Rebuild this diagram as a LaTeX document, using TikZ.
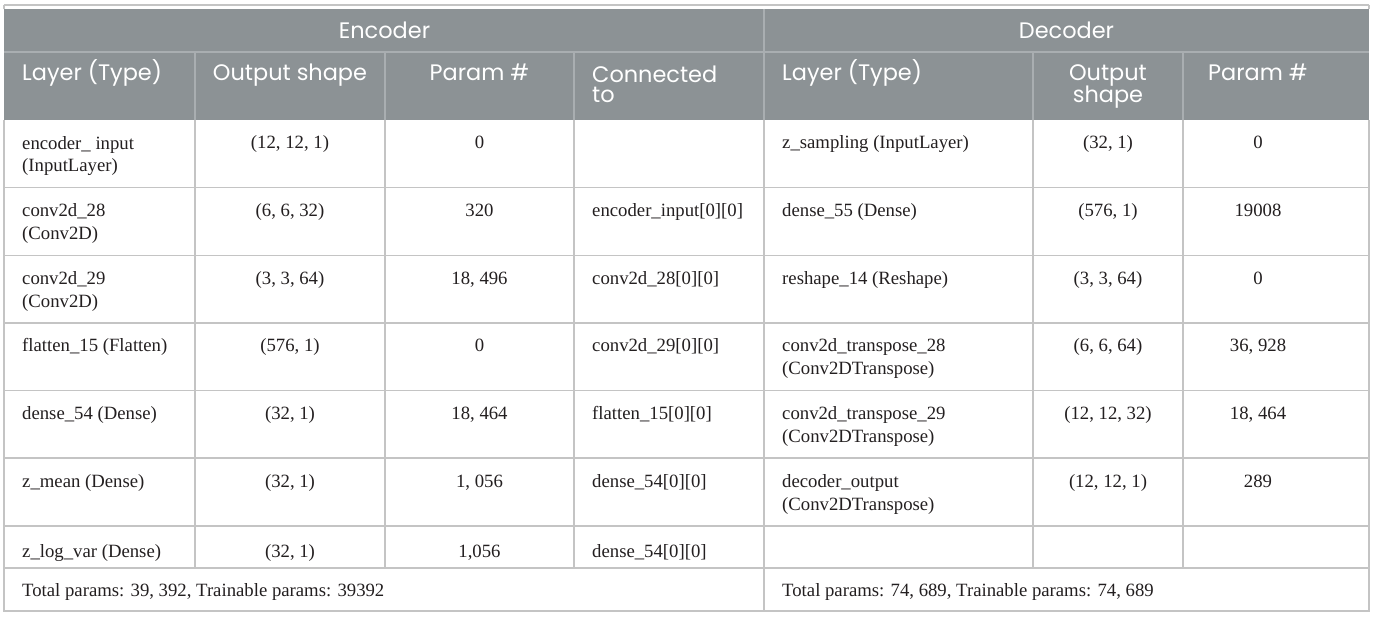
\documentclass[tikz,border=0pt]{standalone}
\usepackage{fontspec}
\setmainfont{Liberation Serif}
\newfontfamily\hdrfont{Poppins}
\definecolor{hdrgray}{HTML}{8C9295}
\definecolor{hdrline}{HTML}{A9AEB1}
\definecolor{gridc}{HTML}{C4C4C4}
\definecolor{bodytxt}{HTML}{231F20}
\tikzset{
  hdr/.style={inner sep=0pt, text=white, font=\hdrfont\fontsize{22.5}{22}\selectfont},
  hdrL/.style={hdr, anchor=base west, align=left},
  hdrC/.style={hdr, anchor=base, align=center},
  body/.style={inner sep=0pt, text=bodytxt, font=\fontsize{18.8}{23}\selectfont},
  cellL/.style={body, anchor=base west, align=left},
  cellC/.style={body, anchor=base, align=center},
  gridline/.style={draw=gridc, line width=1.4bp},
  hdrrule/.style={draw=hdrline, line width=1.4bp}
}
\begin{document}
\begin{tikzpicture}[x=1bp,y=-1bp]
\useasboundingbox (0,0) rectangle (1375,617);
% header background
\fill[hdrgray] (4,9) rectangle (1369,120);
\draw[gridline] (4,5) -- (1369,5);
% header rules
\draw[hdrrule] (4,52) -- (1369,52);
\draw[hdrrule] (764,9) -- (764,52);
\foreach \x in {195,385,574,764,1033,1183} \draw[hdrrule] (\x,52) -- (\x,120);
% body grid
\foreach \y in {187.6,255.2,322.8,390.4,458,526,568} \draw[gridline] (4,\y) -- (1369,\y);
\foreach \x in {195,385,574,764,1033,1183} \draw[gridline] (\x,120) -- (\x,568);
\draw[gridline] (764,568) -- (764,611);
\draw[gridline] (4,120) -- (4,611) -- (1369,611) -- (1369,120);
\draw[gridline] (4,5) -- (4,9);
\draw[gridline] (1369,5) -- (1369,9);

% group headers (multi-line nodes: base = last line)
\node[hdrC] (enc) at (384.5,39) {Encoder};
\node[hdrC] (dec) at (1066.5,39) {Decoder};
% column headers
\node[hdrL] (h1) at (22,81) {Layer (Type)};
\node[hdrC] (h2) at (290,81) {Output shape};
\node[hdrC] (h3) at (479.5,81) {Param \#};
\node[hdrL] (h4) at (592,103) {Connected\\[-1pt]to};
\node[hdrL] (h5) at (782,81) {Layer (Type)};
\node[hdrC] (h6) at (1108,103) {Output\\[-1pt]shape};
\node[hdrC] (h7) at (1258,81) {Param \#};

% encoder rows
\node[cellL] (e1a) at (22,172) {encoder\_ input\\(InputLayer)};
\node[cellC] (e1b) at (290,149) {(12, 12, 1)};
\node[cellC] (e1c) at (479.5,149) {0};

\node[cellL] (e2a) at (22,239.6) {conv2d\_28\\(Conv2D)};
\node[cellC] (e2b) at (290,216.6) {(6, 6, 32)};
\node[cellC] (e2c) at (479.5,216.6) {320};
\node[cellL] (e2d) at (592,216.6) {encoder\_input[0][0]};

\node[cellL] (e3a) at (22,307.2) {conv2d\_29\\(Conv2D)};
\node[cellC] (e3b) at (290,284.2) {(3, 3, 64)};
\node[cellC] (e3c) at (479.5,284.2) {18, 496};
\node[cellL] (e3d) at (592,284.2) {conv2d\_28[0][0]};

\node[cellL] (e4a) at (22,351.8) {flatten\_15 (Flatten)};
\node[cellC] (e4b) at (290,351.8) {(576, 1)};
\node[cellC] (e4c) at (479.5,351.8) {0};
\node[cellL] (e4d) at (592,351.8) {conv2d\_29[0][0]};

\node[cellL] (e5a) at (22,419.4) {dense\_54 (Dense)};
\node[cellC] (e5b) at (290,419.4) {(32, 1)};
\node[cellC] (e5c) at (479.5,419.4) {18, 464};
\node[cellL] (e5d) at (592,419.4) {flatten\_15[0][0]};

\node[cellL] (e6a) at (22,487) {z\_mean (Dense)};
\node[cellC] (e6b) at (290,487) {(32, 1)};
\node[cellC] (e6c) at (479.5,487) {1, 056};
\node[cellL] (e6d) at (592,487) {dense\_54[0][0]};

\node[cellL] (e7a) at (22,557) {z\_log\_var (Dense)};
\node[cellC] (e7b) at (290,557) {(32, 1)};
\node[cellC] (e7c) at (479.5,557) {1,056};
\node[cellL] (e7d) at (592,557) {dense\_54[0][0]};

\node[cellL] (et) at (22,596) {Total params: 39, 392, Trainable params: 39392};

% decoder rows
\node[cellL] (d1a) at (782,149) {z\_sampling (InputLayer)};
\node[cellC] (d1b) at (1108,149) {(32, 1)};
\node[cellC] (d1c) at (1258,149) {0};

\node[cellL] (d2a) at (782,216.6) {dense\_55 (Dense)};
\node[cellC] (d2b) at (1108,216.6) {(576, 1)};
\node[cellC] (d2c) at (1258,216.6) {19008};

\node[cellL] (d3a) at (782,284.2) {reshape\_14 (Reshape)};
\node[cellC] (d3b) at (1108,284.2) {(3, 3, 64)};
\node[cellC] (d3c) at (1258,284.2) {0};

\node[cellL] (d4a) at (782,374.8) {conv2d\_transpose\_28\\(Conv2DTranspose)};
\node[cellC] (d4b) at (1108,351.8) {(6, 6, 64)};
\node[cellC] (d4c) at (1258,351.8) {36, 928};

\node[cellL] (d5a) at (782,442.4) {conv2d\_transpose\_29\\(Conv2DTranspose)};
\node[cellC] (d5b) at (1108,419.4) {(12, 12, 32)};
\node[cellC] (d5c) at (1258,419.4) {18, 464};

\node[cellL] (d6a) at (782,510) {decoder\_output\\(Conv2DTranspose)};
\node[cellC] (d6b) at (1108,487) {(12, 12, 1)};
\node[cellC] (d6c) at (1258,487) {289};

\node[cellL] (dt) at (782,596) {Total params: 74, 689, Trainable params: 74, 689};
\end{tikzpicture}
\end{document}
